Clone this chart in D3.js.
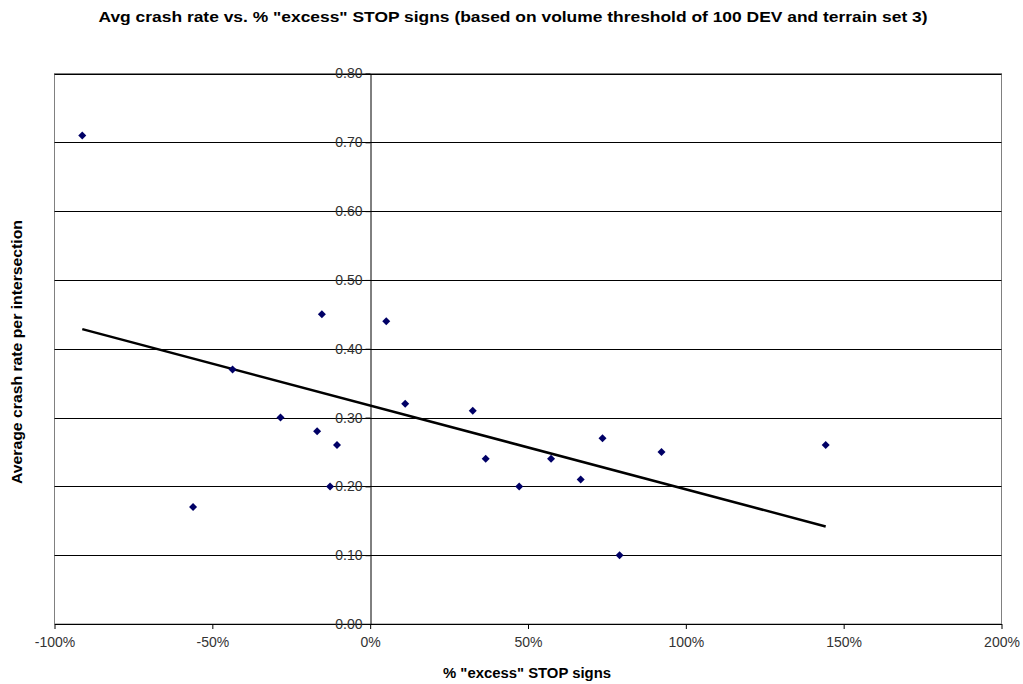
<!DOCTYPE html>
<html><head><meta charset="utf-8">
<script src="https://cdn.jsdelivr.net/npm/d3@7"></script>
<style>body{margin:0;background:#fff}svg{display:block}</style>
</head><body>
<svg id="c" width="1023" height="684"></svg>
<script>
const titleText = 'Avg crash rate vs. % "excess" STOP signs (based on volume threshold of 100 DEV and terrain set 3)';
const xTitle = '% "excess" STOP signs';
const yTitle = 'Average crash rate per intersection';
const excessPct = [-91.2,-56.1,-43.6,-28.4,-16.8,-15.3,-10.5,-12.7,5.1,11.1,32.5,36.6,47.2,57.3,66.7,73.6,79.0,92.3,144.3];
const crashRate = [0.71,0.17,0.37,0.30,0.28,0.45,0.26,0.20,0.44,0.32,0.31,0.24,0.20,0.24,0.21,0.27,0.10,0.25,0.26];
const xTicks = [-100,-50,0,50,100,150,200];
const yTicks = [0,0.1,0.2,0.3,0.4,0.5,0.6,0.7,0.8];

const svg = d3.select('#c');
const L=54.5, R=1001.5, T=73.5, B=624;
const x = d3.scaleLinear().domain([-100,200]).range([L,R]);
const y = d3.scaleLinear().domain([0,0.8]).range([B,T]);
const font = "'Liberation Sans', Arial, sans-serif";

// frame
svg.append('rect').attr('x',L).attr('y',T).attr('width',R-L).attr('height',B-T)
  .attr('fill','#fff').attr('stroke','#808080').attr('stroke-width',1);

// horizontal gridlines
svg.append('g').selectAll('line').data(yTicks.filter(d=>d>0)).join('line')
  .attr('x1',L).attr('x2',R).attr('y1',d=>Math.round(y(d))+0.5).attr('y2',d=>Math.round(y(d))+0.5)
  .attr('stroke','#000').attr('stroke-width',1);

// x axis at y=0
const xAxis = d3.axisBottom(x).tickValues(xTicks).tickFormat(d=>d+'%').tickSize(5).tickSizeOuter(0);
const gx = svg.append('g').attr('transform',`translate(0,${B})`).call(xAxis);
gx.select('.domain').attr('stroke','#000');
gx.selectAll('.tick line').attr('stroke','#000');
gx.selectAll('.tick text').attr('font-family',font).attr('font-size',14).attr('fill','#333').attr('dy','1.1em');

// y axis at x=0
const yAxis = d3.axisLeft(y).tickValues(yTicks).tickFormat(d3.format('.2f')).tickSize(5).tickSizeOuter(0);
const gy = svg.append('g').attr('transform',`translate(${Math.round(x(0))+0.5},0)`).call(yAxis);
gy.select('.domain').attr('stroke','#000');
gy.selectAll('.tick line').attr('stroke','#000');
gy.selectAll('.tick text').attr('font-family',font).attr('font-size',14).attr('fill','#333').attr('x',-8);

// trendline (linear least squares)
const n = excessPct.length;
const mx = d3.mean(excessPct), my = d3.mean(crashRate);
let sxy=0, sxx=0;
for(let i=0;i<n;i++){ sxy+=(excessPct[i]-mx)*(crashRate[i]-my); sxx+=(excessPct[i]-mx)**2; }
const slope = sxy/sxx, icpt = my - slope*mx;
const [xmin,xmax] = d3.extent(excessPct);
svg.append('line').attr('x1',x(xmin)).attr('y1',y(icpt+slope*xmin)).attr('x2',x(xmax)).attr('y2',y(icpt+slope*xmax))
  .attr('stroke','#000').attr('stroke-width',2.5);

// points
svg.append('g').selectAll('path').data(excessPct.map((v,i)=>[v,crashRate[i]])).join('path')
  .attr('transform',d=>`translate(${x(d[0])},${y(d[1])})`)
  .attr('d','M0,-4L4,0L0,4L-4,0Z').attr('fill','#000066');

// titles
svg.append('text').attr('x',513).attr('y',22).attr('text-anchor','middle')
  .attr('font-family',font).attr('font-weight','bold').attr('font-size',15)
  .attr('textLength',829).attr('lengthAdjust','spacingAndGlyphs').text(titleText);
svg.append('text').attr('x',527).attr('y',678).attr('text-anchor','middle')
  .attr('font-family',font).attr('font-weight','bold').attr('font-size',14)
  .attr('textLength',168).attr('lengthAdjust','spacingAndGlyphs').text(xTitle);
svg.append('text').attr('transform','translate(22,352) rotate(-90)').attr('text-anchor','middle')
  .attr('font-family',font).attr('font-weight','bold').attr('font-size',14)
  .attr('textLength',264).attr('lengthAdjust','spacingAndGlyphs').text(yTitle);
</script>
</body></html>
